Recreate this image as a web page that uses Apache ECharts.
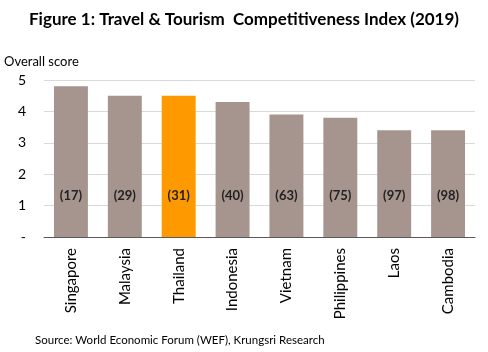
<!DOCTYPE html>
<html>
<head>
<meta charset="utf-8">
<script src="https://cdn.jsdelivr.net/npm/echarts@6/dist/echarts.min.js"></script>
<style>
  html, body { margin: 0; padding: 0; background: #fff; }
  #chart { width: 488px; height: 352px; }
</style>
</head>
<body>
<div id="chart"></div>
<script>
// data
const countries = ['Singapore', 'Malaysia', 'Thailand', 'Indonesia', 'Vietnam', 'Philippines', 'Laos', 'Cambodia']
const scores = [4.8, 4.5, 4.5, 4.3, 3.9, 3.8, 3.4, 3.4]
const ranks = ['(17)', '(29)', '(31)', '(40)', '(63)', '(75)', '(97)', '(98)']
const highlight = 'Thailand'

const font = 'Lato, "Open Sans", sans-serif'

const chart = echarts.init(document.getElementById('chart'))

chart.setOption({
  animation: false,
  title: [
    {
      text: 'Figure 1: Travel & Tourism  Competitiveness Index (2019)',
      left: 'center',
      top: 6,
      textStyle: { fontFamily: font, fontSize: 17, fontWeight: 'bold', color: '#000' }
    },
    {
      text: 'Source: World Economic Forum (WEF), Krungsri Research',
      left: 30,
      top: 329,
      textStyle: { fontFamily: font, fontSize: 11.5, fontWeight: 'normal', color: '#000' }
    }
  ],
  grid: { left: 44, right: 13, top: 80, bottom: 115 },
  xAxis: {
    type: 'category',
    data: countries,
    axisLine: { lineStyle: { color: '#595959' } },
    axisTick: { show: false },
    axisLabel: { rotate: 90, fontFamily: font, fontSize: 15, color: '#000', margin: 11 }
  },
  yAxis: {
    type: 'value',
    min: 0,
    max: 5,
    interval: 1,
    name: 'Overall score',
    nameLocation: 'end',
    nameGap: 12,
    nameTextStyle: { fontFamily: font, fontSize: 13, color: '#000', align: 'left', padding: [0, 0, 0, -40] },
    axisLine: { show: false },
    axisTick: { show: false },
    axisLabel: {
      fontFamily: font, fontSize: 14, color: '#000', margin: 18,
      formatter: v => (v === 0 ? '-' : String(v))
    },
    splitLine: { lineStyle: { color: '#d9d9d9' } }
  },
  series: [{
    type: 'bar',
    barWidth: '63%',
    data: scores.map((v, i) => ({
      value: v,
      itemStyle: { color: countries[i] === highlight ? '#ff9900' : '#a6958f' }
    })),
    label: {
      show: true,
      position: 'insideBottom',
      distance: 35,
      formatter: p => ranks[p.dataIndex],
      fontFamily: font,
      fontSize: 13,
      fontWeight: 'bold',
      color: '#222'
    }
  }]
})
</script>
</body>
</html>
